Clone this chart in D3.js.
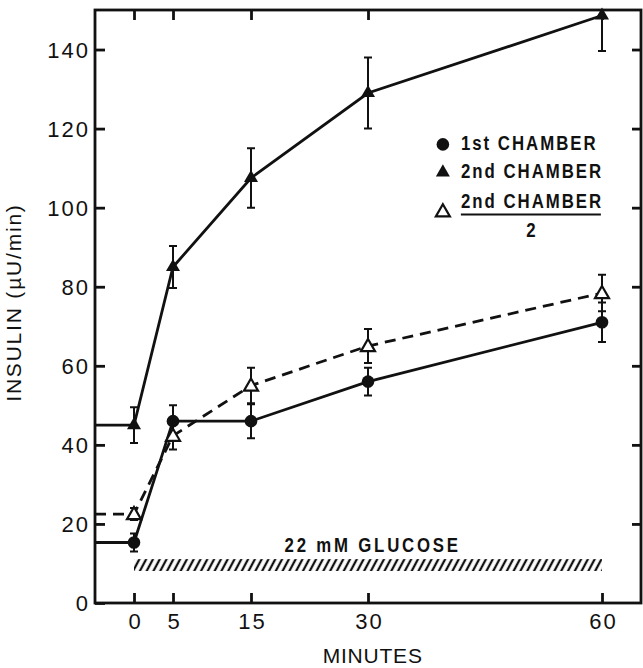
<!DOCTYPE html>
<html>
<head>
<meta charset="utf-8">
<script src="https://cdn.jsdelivr.net/npm/d3@7"></script>
<style>
  body { margin: 0; background: #fff; }
  svg { display: block; }
</style>
</head>
<body>
<div id="chart"></div>
<script>
// data
var minutes = [0, 5, 15, 30, 60];
var xTicks = [0, 5, 15, 30, 60];
var yTicks = [0, 20, 40, 60, 80, 100, 120, 140];

var firstChamber = [15.3, 46, 46, 56, 71];
var firstErr = [2.3, 4, 4.3, 3.5, 5];
var secondChamber = [45, 85, 107.5, 129, 148.6];
var secondErr = [4.5, 5.3, 7.5, 9, 9];
var halfSecond = [22.5, 42.3, 55, 65, 78.4];
var halfErr = [1.5, 3.5, 4.5, 4.3, 4.6];

var glucoseStart = 0, glucoseEnd = 60;
var glucoseLow = 8.1, glucoseHigh = 11.1;

var width = 643, height = 668;
var margin = {top: 10, right: 2, bottom: 65, left: 95};
var w = width - margin.left - margin.right;
var h = height - margin.top - margin.bottom;

var svg = d3.select("#chart").append("svg")
    .attr("width", width)
    .attr("height", height);

var defs = svg.append("defs");
var pat = defs.append("pattern")
    .attr("id", "hatch")
    .attr("patternUnits", "userSpaceOnUse")
    .attr("width", 6)
    .attr("height", 6)
    .attr("patternTransform", "rotate(28)");
pat.append("line")
    .attr("x1", 3).attr("y1", 0)
    .attr("x2", 3).attr("y2", 6)
    .attr("stroke", "#111")
    .attr("stroke-width", 2.3);

var g = svg.append("g")
    .attr("transform", "translate(" + margin.left + "," + margin.top + ")");

var x = d3.scaleLinear().domain([-5, 65]).range([0, w]);
var y = d3.scaleLinear().domain([0, 150]).range([h, 0]);

var font = "'Liberation Sans', Arial, Helvetica, sans-serif";

// frame
g.append("rect")
    .attr("width", w).attr("height", h)
    .attr("fill", "none")
    .attr("stroke", "#111")
    .attr("stroke-width", 2.8);

// axes, ticks pointing inward
var xAxis = g.append("g")
    .attr("transform", "translate(0," + h + ")")
    .call(d3.axisBottom(x).tickValues(xTicks).tickSize(-10).tickPadding(10).tickSizeOuter(0));
var xTop = g.append("g")
    .call(d3.axisTop(x).tickValues(xTicks).tickSize(-10).tickSizeOuter(0).tickFormat(""));
var yAxis = g.append("g")
    .call(d3.axisLeft(y).tickValues(yTicks).tickSize(-10).tickPadding(5).tickSizeOuter(0));
var yRight = g.append("g")
    .attr("transform", "translate(" + w + ",0)")
    .call(d3.axisRight(y).tickValues(yTicks.slice(1)).tickSize(-9).tickSizeOuter(0).tickFormat(""));

[xAxis, xTop, yAxis, yRight].forEach(function (a) {
    a.select(".domain").remove();
    a.selectAll(".tick line").attr("stroke", "#111").attr("stroke-width", 2.8);
    a.selectAll("text")
        .attr("fill", "#111")
        .style("font-family", font)
        .style("font-size", "22px")
        .style("letter-spacing", "2px");
});
yAxis.selectAll("text").attr("dy", "0.36em");
xAxis.selectAll("text").attr("dy", "0.71em").attr("dx", "1px");

// axis titles
g.append("text")
    .attr("transform", "translate(" + (21 - margin.left) + "," + y(76) + ") rotate(-90)")
    .attr("text-anchor", "middle")
    .style("font-family", font)
    .style("font-size", "21px")
    .style("letter-spacing", "1.8px")
    .attr("fill", "#111")
    .text("INSULIN (µU/min)");

g.append("text")
    .attr("x", x(30.6))
    .attr("y", h + 60)
    .attr("text-anchor", "middle")
    .style("font-family", font)
    .style("font-size", "21px")
    .style("letter-spacing", "0.8px")
    .attr("fill", "#111")
    .text("MINUTES");

// glucose bar
g.append("rect")
    .attr("x", x(glucoseStart))
    .attr("width", x(glucoseEnd) - x(glucoseStart))
    .attr("y", y(glucoseHigh))
    .attr("height", y(glucoseLow) - y(glucoseHigh))
    .attr("fill", "url(#hatch)");

// condensed lettering, squeezed horizontally
var condFont = "'Liberation Sans', Arial, sans-serif";

function condText(sel, xx, yy, anchor, spacing) {
    return sel.append("text")
        .attr("transform", "translate(" + xx + "," + yy + ") scale(0.8,1)")
        .attr("text-anchor", anchor)
        .style("font-family", condFont)
        .style("font-weight", "bold")
        .style("font-size", "21px")
        .style("letter-spacing", spacing + "px")
        .attr("fill", "#111");
}

condText(g, x(30.6), y(13), "middle", 3.5).text("22 mM GLUCOSE");

// series
function pts(vals, errs) {
    return vals.map(function (v, i) {
        return {t: minutes[i], v: v, e: errs[i]};
    });
}

var s1 = pts(firstChamber, firstErr);
var s2 = pts(secondChamber, secondErr);
var s3 = pts(halfSecond, halfErr);

var line = d3.line()
    .x(function (d) { return x(d.t); })
    .y(function (d) { return y(d.v); });

function drawSeries(data, dashed) {
    // pre-stimulus baseline from axis to time 0
    var full = [{t: -5, v: data[0].v}].concat(data);
    g.append("path")
        .datum(full)
        .attr("d", line)
        .attr("fill", "none")
        .attr("stroke", "#111")
        .attr("stroke-width", 2.8)
        .attr("stroke-dasharray", dashed ? "11,7" : null);

    g.append("g").selectAll(".bar")
        .data(data)
        .enter()
        .append("path")
        .attr("d", function (d) {
            var xx = x(d.t), t = y(Math.min(d.v + d.e, 150)), b = y(d.v - d.e);
            return "M" + xx + "," + t + "V" + b +
                "M" + (xx - 4) + "," + t + "H" + (xx + 4) +
                "M" + (xx - 4) + "," + b + "H" + (xx + 4);
        })
        .attr("fill", "none")
        .attr("stroke", "#111")
        .attr("stroke-width", 2);
}

drawSeries(s3, true);
drawSeries(s1, false);
drawSeries(s2, false);

var tri = d3.symbol().type(d3.symbolTriangle).size(85);
var circ = d3.symbol().type(d3.symbolCircle).size(125);

g.selectAll(".c1").data(s1).enter().append("path")
    .attr("d", circ)
    .attr("transform", function (d) { return "translate(" + x(d.t) + "," + y(d.v) + ")"; })
    .attr("fill", "#111");

g.selectAll(".t2").data(s2).enter().append("path")
    .attr("d", tri)
    .attr("transform", function (d) { return "translate(" + x(d.t) + "," + y(d.v) + ")"; })
    .attr("fill", "#111");

g.selectAll(".t3").data(s3).enter().append("path")
    .attr("d", tri)
    .attr("transform", function (d) { return "translate(" + x(d.t) + "," + (y(d.v) + 1) + ")"; })
    .attr("fill", "#fff")
    .attr("stroke", "#111")
    .attr("stroke-width", 2.2);

// legend
var lx = x(39.6), ly = y(116);
var legend = g.append("g").attr("transform", "translate(" + lx + "," + ly + ")");
var legItems = ["1st CHAMBER", "2nd CHAMBER", "2nd CHAMBER"];
var legBase = [6, 34, 64];

legend.append("path").attr("d", circ).attr("fill", "#111");
legend.append("path").attr("d", tri).attr("transform", "translate(0,28)").attr("fill", "#111");
legend.append("path").attr("d", tri).attr("transform", "translate(0,68)")
    .attr("fill", "#fff").attr("stroke", "#111").attr("stroke-width", 2.2);

legItems.forEach(function (d, i) {
    condText(legend, 18, legBase[i], "start", 2.5).text(d);
});

legend.append("line")
    .attr("x1", 18).attr("x2", 158)
    .attr("y1", 70).attr("y2", 70)
    .attr("stroke", "#111").attr("stroke-width", 2);

condText(legend, 88, 93, "middle", 0).text("2");
</script>
</body>
</html>
